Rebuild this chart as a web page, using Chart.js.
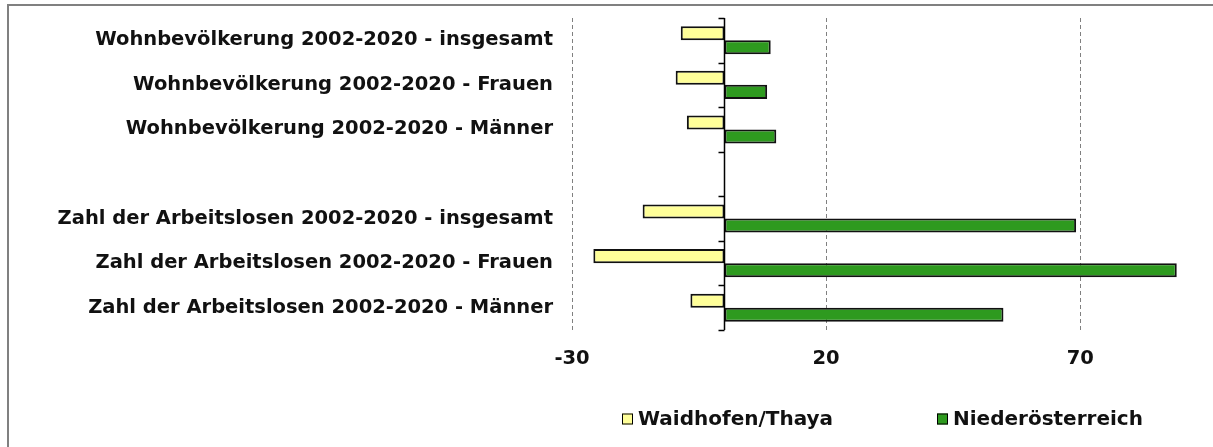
<!DOCTYPE html>
<html>
<head>
<meta charset="utf-8">
<script src="https://cdn.jsdelivr.net/npm/chart.js@4.4.1/dist/chart.umd.min.js"></script>
<style>
  html, body { margin: 0; padding: 0; background: #fff; }
  #wrap { position: relative; width: 1213px; height: 447px; }
  #rahmen { position: absolute; left: 7px; top: 4px; right: -10px; bottom: -10px;
            border-top: 2px solid #808080; border-left: 2px solid #808080; pointer-events: none; }
  canvas { position: absolute; left: 0; top: 0; }
</style>
</head>
<body>
<div id="wrap">
  <canvas id="chart" width="1213" height="447"></canvas>
  <div id="rahmen"></div>
</div>
<script>
// Kategorien (leere Zeile zwischen den Gruppen)
const kategorien = [
  'Wohnbevölkerung 2002-2020 - insgesamt',
  'Wohnbevölkerung 2002-2020 - Frauen',
  'Wohnbevölkerung 2002-2020 - Männer',
  '',
  'Zahl der Arbeitslosen 2002-2020 - insgesamt',
  'Zahl der Arbeitslosen 2002-2020 - Frauen',
  'Zahl der Arbeitslosen 2002-2020 - Männer'
];

// Veränderung in %
const waidhofen = [-8.6, -9.6, -7.4, null, -16.1, -25.8, -6.7];
const niederoesterreich = [9.1, 8.4, 10.2, null, 69.2, 89.0, 54.9];

const xTicks = [-30, 20, 70];

const schriftFamilie = '"DejaVu Sans", Verdana, sans-serif';

// Nulllinie mit kleinen Teilstrichen zwischen den Kategorien
const nullAchse = {
  id: 'nullAchse',
  afterDatasetsDraw(chart) {
    const ctx = chart.ctx;
    const xs = chart.scales.x, ys = chart.scales.y;
    const x0 = Math.round(xs.getPixelForValue(0)) + 0.5;
    const area = chart.chartArea;
    ctx.save();
    ctx.strokeStyle = '#000';
    ctx.lineWidth = 1.5;
    ctx.beginPath();
    ctx.moveTo(x0, area.top);
    ctx.lineTo(x0, area.bottom);
    const schritt = (ys.getPixelForValue(1) - ys.getPixelForValue(0));
    for (let i = 0; i <= kategorien.length; i++) {
      const y = Math.round(ys.getPixelForValue(0) - schritt / 2 + i * schritt) + 0.5;
      ctx.moveTo(x0 - 6, y);
      ctx.lineTo(x0, y);
    }
    ctx.stroke();
    ctx.restore();
  }
};

// Legende wie im Original (unter der Zeichenfläche)
const legende = {
  id: 'legende',
  afterDraw(chart) {
    const ctx = chart.ctx;
    const mitte = (chart.chartArea.left + chart.chartArea.right) / 2;
    const y = 419;
    const posX = [mitte - 260, mitte + 55];
    ctx.save();
    ctx.font = 'bold 20px ' + schriftFamilie;
    ctx.textBaseline = 'middle';
    chart.data.datasets.forEach(function(ds, i) {
      const x = posX[i];
      ctx.fillStyle = ds.backgroundColor;
      ctx.fillRect(x, y - 5.5, 11, 11);
      ctx.strokeStyle = '#000';
      ctx.lineWidth = 1;
      ctx.strokeRect(x + 0.5, y - 5, 10, 10);
      ctx.fillStyle = '#111';
      ctx.fillText(ds.label, x + 16, y + 1);
    });
    ctx.restore();
  }
};

const ctx = document.getElementById('chart').getContext('2d');
new Chart(ctx, {
  type: 'bar',
  data: {
    labels: kategorien,
    datasets: [
      {
        label: 'Waidhofen/Thaya',
        data: waidhofen,
        backgroundColor: '#FFFF99',
        borderColor: '#111',
        borderWidth: 2,
        borderSkipped: false
      },
      {
        label: 'Niederösterreich',
        data: niederoesterreich,
        backgroundColor: '#2E9A1F',
        borderColor: '#111',
        borderWidth: 2,
        borderSkipped: false
      }
    ]
  },
  options: {
    indexAxis: 'y',
    responsive: false,
    animation: false,
    devicePixelRatio: 1,
    layout: { padding: { top: 18, right: 21, left: 0, bottom: 0 } },
    categoryPercentage: 0.63,
    barPercentage: 1.0,
    scales: {
      x: {
        min: -30,
        max: 92,
        afterBuildTicks: function(scale) {
          scale.ticks = xTicks.map(function(v) { return { value: v }; });
        },
        afterFit: function(scale) {
          scale.height = 117;
          scale.paddingLeft = 0;
          scale.paddingRight = 0;
        },
        grid: {
          drawTicks: false,
          color: '#808080',
          lineWidth: 1
        },
        border: { display: false, dash: [4, 3] },
        ticks: {
          padding: 17,
          color: '#111',
          font: { family: schriftFamilie, size: 19.5, weight: 'bold' }
        }
      },
      y: {
        afterFit: function(scale) {
          scale.width = 572;
          scale.paddingTop = 0;
          scale.paddingBottom = 0;
        },
        grid: { display: false, drawTicks: false },
        border: { display: false },
        ticks: {
          padding: 19,
          color: '#111',
          autoSkip: false,
          font: { family: schriftFamilie, size: 19.5, weight: 'bold' }
        }
      }
    },
    plugins: {
      legend: { display: false },
      tooltip: { enabled: false }
    }
  },
  plugins: [nullAchse, legende]
});
</script>
</body>
</html>
